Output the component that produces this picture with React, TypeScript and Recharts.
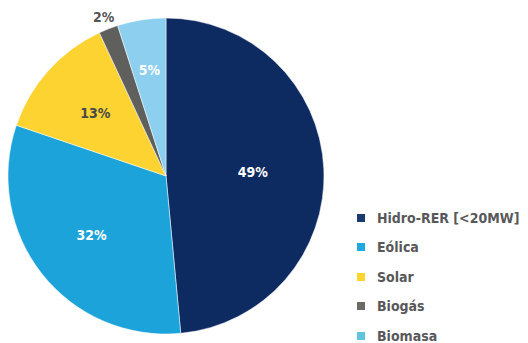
import React from "react";
import { PieChart, Pie, Cell, Legend } from "recharts";

const categories = ["Hidro-RER [<20MW]", "Eólica", "Solar", "Biogás", "Biomasa"];
const shares = [49, 32, 13, 2, 5];
const colors = ["#0d2b61", "#1ca3da", "#fdd331", "#5f605d", "#8ccfee"];
const legendColors = ["#1b3a6e", "#1ea7e0", "#fed530", "#6b6b66", "#62c3dc"];
const labelColors = ["#ffffff", "#ffffff", "#4a4a48", "#555555", "#ffffff"];

const data = categories.map((name, i) => ({ name, value: shares[i] }));

if (typeof document !== "undefined") {
  document.body.style.margin = "0";
}

const FONT = "'DejaVu Sans Condensed', 'DejaVu Sans', sans-serif";
const RAD = Math.PI / 180;

const renderLabel = (props: any) => {
  const { cx, cy, midAngle, outerRadius, index, value } = props;
  let r = outerRadius * 0.6;
  if (value < 3) r = outerRadius * 1.08;
  else if (value < 8) r = outerRadius * 0.68;
  else if (value > 40) r = outerRadius * 0.55;
  const x = cx + r * Math.cos(-midAngle * RAD);
  const y = cy + r * Math.sin(-midAngle * RAD);
  return (
    <text
      x={x}
      y={y}
      fill={labelColors[index]}
      textAnchor="middle"
      dominantBaseline="central"
      fontFamily={FONT}
      fontWeight="bold"
      fontSize={14}
    >
      {value}%
    </text>
  );
};

const renderLegend = () => (
  <div style={{ fontFamily: FONT, fontWeight: "bold", fontSize: 14, color: "#58585a" }}>
    {categories.map((name, i) => (
      <div key={name} style={{ display: "flex", alignItems: "center", height: 29.5, whiteSpace: "nowrap" }}>
        <span
          style={{
            width: 8,
            height: 8,
            background: legendColors[i],
            display: "inline-block",
            marginRight: 12,
            flexShrink: 0,
          }}
        />
        <span>{name}</span>
      </div>
    ))}
  </div>
);

export default function App() {
  return (
    <div style={{ width: 528, height: 343, background: "#fff" }}>
      <PieChart width={528} height={343} margin={{ top: 0, right: 0, bottom: 0, left: 0 }}>
        <Pie
          data={data}
          dataKey="value"
          nameKey="name"
          cx={166}
          cy={176}
          outerRadius={158}
          startAngle={90}
          endAngle={-270}
          stroke="#ffffff"
          strokeWidth={0.5}
          label={renderLabel}
          labelLine={false}
          isAnimationActive={false}
        >
          {data.map((d, i) => (
            <Cell key={d.name} fill={colors[i]} />
          ))}
        </Pie>
        <Legend
          content={renderLegend}
          wrapperStyle={{ position: "absolute", left: 357, top: 203, width: 171 }}
        />
      </PieChart>
    </div>
  );
}
